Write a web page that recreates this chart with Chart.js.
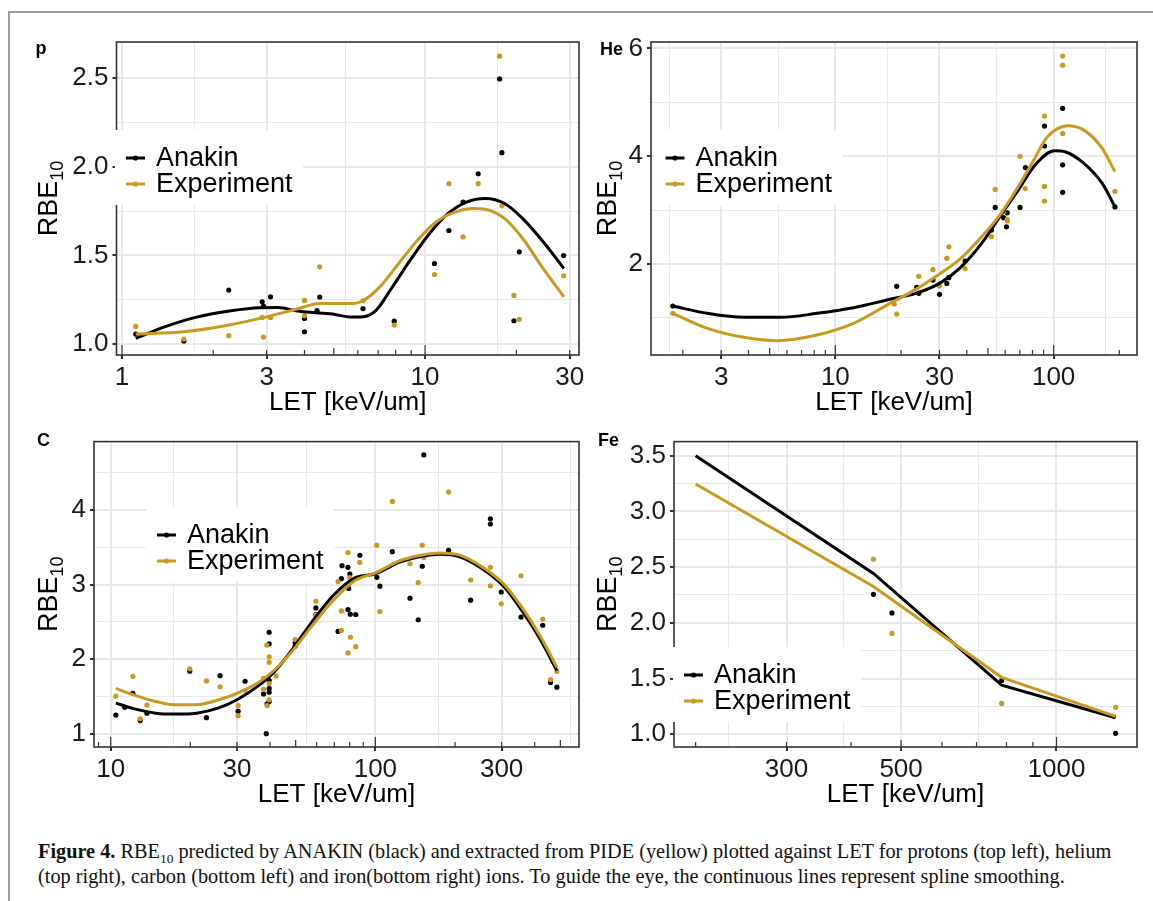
<!DOCTYPE html>
<html>
<head>
<meta charset="utf-8">
<script src="https://cdn.jsdelivr.net/npm/chart.js@4.4.0/dist/chart.umd.min.js"></script>
<style>
  body { margin: 0; background: #fff; width: 1153px; height: 901px; overflow: hidden; position: relative; }
  #frame { position: absolute; left: 8px; top: 11px; width: 1170px; height: 910px; border: 2px solid #9b9b9b; }
  canvas { position: absolute; }
  #caption { position: absolute; left: 38px; top: 839px; font-family: "Liberation Serif", "Times New Roman", serif;
             font-size: 20.3px; line-height: 25px; color: #111; white-space: nowrap; }
  #caption sub { font-size: 13.5px; line-height: 0; }
</style>
</head>
<body>
<div id="frame"></div>
<canvas id="cp"  width="578" height="400" style="left:12px;top:20px"></canvas>
<canvas id="che" width="555" height="400" style="left:592px;top:20px"></canvas>
<canvas id="cc"  width="578" height="398" style="left:12px;top:422px"></canvas>
<canvas id="cfe" width="555" height="398" style="left:592px;top:422px"></canvas>
<div id="caption"><b>Figure 4.</b> RBE<sub>10</sub> predicted by ANAKIN (black) and extracted from PIDE (yellow) plotted against LET for protons (top left), helium<br>(top right), carbon (bottom left) and iron(bottom right) ions. To guide the eye, the continuous lines represent spline smoothing.</div>

<script>
const BLACK = "#000000";
const GOLD  = "#C99A1F";

// ---- protons ----
const pLetA = [1.11, 1.60, 2.25, 2.90, 2.93, 3.09, 4.0, 4.0, 4.40, 4.49, 6.24, 7.91, 10.74, 11.98, 13.35, 14.97, 17.62, 17.92, 19.64, 20.45, 28.66];
const pRbeA = [1.056, 1.017, 1.304, 1.238, 1.214, 1.266, 1.069, 1.144, 1.188, 1.265, 1.20, 1.129, 1.454, 1.64, 1.80, 1.96, 2.495, 2.079, 1.131, 1.52, 1.499];
const pLetE = [1.11, 1.60, 2.25, 2.90, 2.93, 3.09, 4.0, 4.0, 4.49, 6.24, 7.91, 10.74, 11.98, 13.35, 14.97, 17.62, 17.92, 19.64, 20.45, 28.66];
const pRbeE = [1.099, 1.028, 1.047, 1.15, 1.039, 1.15, 1.246, 1.159, 1.435, 1.244, 1.107, 1.392, 1.904, 1.604, 1.904, 2.623, 1.779, 1.274, 1.139, 1.385];
const pFitLetA = [1.11, 1.39, 1.75, 2.26, 2.84, 3.28, 3.78, 4.37, 5.04, 5.65, 6.24, 6.89, 7.74, 8.93, 10.3, 11.9, 13.7, 15.8, 18.3, 21.0, 24.3, 28.7];
const pFitA    = [1.032, 1.098, 1.15, 1.186, 1.205, 1.206, 1.186, 1.176, 1.167, 1.152, 1.154, 1.19, 1.313, 1.473, 1.619, 1.735, 1.80, 1.82, 1.792, 1.707, 1.585, 1.426];
const pFitLetE = [1.11, 1.60, 2.26, 3.01, 3.78, 4.49, 5.04, 5.81, 6.24, 7.09, 8.18, 9.44, 10.9, 12.6, 14.5, 15.8, 18.3, 21.0, 24.3, 28.7];
const pFitE    = [1.056, 1.069, 1.107, 1.154, 1.197, 1.229, 1.229, 1.229, 1.244, 1.322, 1.454, 1.585, 1.689, 1.745, 1.764, 1.76, 1.707, 1.595, 1.435, 1.266];

// ---- helium ----
const heLetA = [1.80, 19.1, 23.6, 24.1, 28.0, 30.0, 32.4, 33.1, 39.3, 51.9, 54.0, 59.0, 61.3, 60.8, 70.2, 74.3, 90.8, 90.8, 110, 110, 110, 191];
const heRbeA = [1.221, 1.586, 1.567, 1.456, 1.703, 1.437, 1.641, 1.747, 2.056, 2.63, 3.05, 2.86, 2.95, 2.69, 3.05, 3.79, 4.56, 4.19, 4.89, 3.84, 3.33, 3.06];
const heLetE = [1.80, 18.6, 19.1, 24.1, 28.0, 30.0, 32.4, 33.1, 39.3, 51.9, 54.0, 59.0, 61.3, 61.5, 70.2, 74.0, 90.8, 90.8, 90.8, 110, 110, 110, 191];
const heRbeE = [1.085, 1.26, 1.073, 1.771, 1.895, 1.592, 2.105, 2.32, 1.913, 2.507, 3.385, 2.97, 2.83, 2.80, 4.0, 3.40, 4.745, 3.44, 3.17, 5.86, 5.69, 4.42, 3.35];
const heFitLetA = [1.80, 2.59, 3.81, 5.61, 8.24, 12.1, 17.8, 23.4, 30.0, 37.1, 46.8, 56.7, 68.8, 83.4, 101, 113.5, 137.7, 167, 191];
const heFitA    = [1.221, 1.085, 1.011, 1.011, 1.085, 1.19, 1.345, 1.456, 1.641, 1.92, 2.383, 2.878, 3.373, 3.867, 4.10, 4.08, 3.867, 3.496, 3.063];
const heFitLetE = [1.80, 2.59, 3.81, 5.39, 8.24, 12.1, 17.8, 23.4, 30.0, 37.1, 46.8, 56.7, 68.8, 80.3, 93.7, 115.8, 137.7, 167, 191];
const heFitE    = [1.085, 0.807, 0.64, 0.578, 0.683, 0.90, 1.27, 1.53, 1.815, 2.087, 2.507, 2.909, 3.434, 3.898, 4.36, 4.566, 4.485, 4.145, 3.713];

// ---- carbon ----
const cLetA = [10.46, 11.30, 12.13, 12.93, 13.71, 19.9, 23.0, 25.9, 30.3, 32.2, 37.8, 38.7, 39.0, 39.7, 39.7, 39.7, 39.7, 39.7, 39.7,
               49.8, 49.8, 59.6, 59.6, 72.3, 74.4, 74.8, 78.8, 78.8, 79.3, 80.1, 80.4, 84.3, 87.4, 101.3, 104, 115.9, 135.2, 145.2,
               150.4, 152.4, 189, 229, 272, 272, 299, 355, 429, 459, 485];
const cRbeA = [1.249, 1.354, 1.541, 1.175, 1.275, 1.838, 1.214, 1.777, 1.301, 1.703, 1.533, 1.0, 1.40, 2.36, 2.205, 1.716, 1.607, 1.555, 1.43,
               2.218, 2.175, 2.686, 2.598, 2.371, 3.079, 3.253, 3.231, 2.664, 2.948, 3.14, 2.603, 2.598, 3.393, 3.096, 2.978, 3.441, 2.817, 2.528,
               3.245, 4.738, 3.459, 2.79, 3.882, 3.812, 2.90, 2.563, 2.454, 1.686, 1.624];
const cLetE = [10.46, 12.13, 12.93, 13.71, 19.9, 23.0, 25.9, 30.3, 30.3, 32.2, 37.8, 37.8, 38.9, 39.7, 39.7, 39.7, 39.7, 39.0, 42.2,
               49.8, 59.6, 59.6, 72.3, 74.4, 74.4, 78.8, 78.8, 80.1, 80.5, 84.3, 87.4, 101.3, 104, 115.9, 135.2, 145.2, 150.4, 152.4,
               189, 229, 272, 272, 299, 355, 429, 459, 485];
const cRbeE = [1.502, 1.769, 1.2, 1.384, 1.869, 1.707, 1.629, 1.24, 1.376, 1.581, 1.742, 1.594, 2.188, 2.031, 1.956, 1.672, 1.454, 1.376, 1.773,
               2.262, 2.777, 2.59, 3.04, 2.646, 2.384, 3.428, 2.083, 3.092, 2.293, 2.166, 3.297, 3.528, 2.638, 4.114, 3.279, 3.026, 3.528, 3.362,
               4.24, 3.061, 3.231, 2.983, 2.742, 3.118, 2.537, 1.725, 1.834];
const cFitLet = [10.46, 12.2, 14.8, 17.4, 21.1, 25.6, 30.0, 36.4, 41.4, 48.6, 57.1, 69.3, 84.1, 100, 123.6, 150, 176, 207, 251, 304, 357, 420, 485];
const cFitA   = [1.41, 1.336, 1.275, 1.262, 1.275, 1.345, 1.454, 1.651, 1.825, 2.131, 2.48, 2.852, 3.092, 3.144, 3.301, 3.38, 3.406, 3.376, 3.223, 2.983, 2.655, 2.262, 1.847];
const cFitE   = [1.607, 1.52, 1.432, 1.389, 1.389, 1.454, 1.541, 1.694, 1.847, 2.109, 2.428, 2.786, 3.057, 3.157, 3.319, 3.397, 3.424, 3.397, 3.245, 3.013, 2.699, 2.306, 1.891];

// ---- iron ----
const feLet  = [442, 480, 783, 1302];
const feRbeA = [2.256, 2.089, 1.482, 1.009];
const feRbeE = [2.571, 1.905, 1.277, 1.242];
const feFitLet = [200, 442, 783, 1302];
const feFitA   = [3.5, 2.443, 1.441, 1.149];
const feFitE   = [3.246, 2.326, 1.511, 1.161];

const LEGEND = [["Anakin", BLACK], ["Experiment", GOLD]];
const FONT = '"Liberation Sans", Arial, sans-serif';

const xy = (xs, ys) => xs.map((x, i) => ({ x, y: ys[i] }));

const decor = {
    id: "decor",
    afterDraw(chart) {
        const o = chart.options.plugins.decor;
        const { ctx, chartArea: a } = chart;
        const sx = chart.scales.x;
        const ox = o.box[0], oy = o.box[1];
        ctx.save();

        // log ticks inside the bottom of the panel
        ctx.strokeStyle = "#333333";
        ctx.lineWidth = 1.2;
        const p0 = Math.floor(Math.log10(sx.min)), p1 = Math.ceil(Math.log10(sx.max));
        for (let p = p0; p <= p1; p++) {
            for (let m = 1; m <= 9; m++) {
                const v = m * Math.pow(10, p);
                if (v < sx.min || v > sx.max) continue;
                const len = m === 1 ? 10 : (m === 5 ? 7 : 5);
                const px = sx.getPixelForValue(v);
                ctx.beginPath();
                ctx.moveTo(px, a.bottom);
                ctx.lineTo(px, a.bottom - len);
                ctx.stroke();
            }
        }

        // panel border
        ctx.lineWidth = 1.6;
        ctx.strokeRect(a.left, a.top, a.right - a.left, a.bottom - a.top);

        // legend
        const L = o.legend;
        const lx = L[0] - ox, ly = L[1] - oy;
        ctx.fillStyle = "#ffffff";
        ctx.fillRect(lx, ly, 188, 75);
        ctx.font = "27px " + FONT;
        ctx.textBaseline = "middle";
        LEGEND.forEach(([label, color], i) => {
            const ry = ly + 28 + i * 26;
            ctx.strokeStyle = color;
            ctx.lineWidth = 3;
            ctx.beginPath();
            ctx.moveTo(lx + 11, ry);
            ctx.lineTo(lx + 30, ry);
            ctx.stroke();
            ctx.fillStyle = color;
            ctx.beginPath();
            ctx.arc(lx + 20.5, ry, 2.6, 0, Math.PI * 2);
            ctx.fill();
            ctx.fillStyle = "#000";
            ctx.fillText(label, lx + 41, ry + 1);
        });

        // axis titles
        ctx.fillStyle = "#000";
        ctx.textBaseline = "alphabetic";
        ctx.textAlign = "center";
        ctx.font = "26px " + FONT;
        ctx.fillText("LET [keV/um]", (a.left + a.right) / 2, a.bottom + 55);

        ctx.save();
        ctx.translate(o.yTitleX - ox, (a.top + a.bottom) / 2);
        ctx.rotate(-Math.PI / 2);
        ctx.textAlign = "left";
        ctx.font = "27px " + FONT;
        const w1 = ctx.measureText("RBE").width;
        ctx.font = "18px " + FONT;
        const w2 = ctx.measureText("10").width;
        ctx.font = "27px " + FONT;
        ctx.fillText("RBE", -(w1 + w2) / 2, 0);
        ctx.font = "18px " + FONT;
        ctx.fillText("10", -(w1 + w2) / 2 + w1, 6);
        ctx.restore();

        // panel tag
        ctx.textAlign = "left";
        ctx.font = "bold 18px " + FONT;
        ctx.fillText(o.tag, o.tagXY[0] - ox, o.tagXY[1] - oy);
        ctx.restore();
    }
};

function makePanel(cfg) {
    const [bx, by, bw, bh] = cfg.box;
    const [pl, pt, pr, pb] = cfg.plot;
    const isMajor = (list, v) => list.some(m => Math.abs(m - v) < 1e-9);

    const gridFor = majors => ({
        color: "#E8E8E8",
        lineWidth: c => isMajor(majors, c.tick.value) ? 2 : 1,
        tickColor: c => isMajor(majors, c.tick.value) ? "#333333" : "rgba(0,0,0,0)",
        tickLength: 4,
        drawTicks: true
    });

    new Chart(document.getElementById(cfg.id), {
        type: "scatter",
        data: {
            datasets: [
                { data: xy(cfg.fitLetE, cfg.fitE), showLine: true, borderColor: GOLD, borderWidth: 3,
                  pointRadius: 0, cubicInterpolationMode: cfg.straight ? "default" : "monotone", tension: 0, order: 0 },
                { data: xy(cfg.fitLetA, cfg.fitA), showLine: true, borderColor: BLACK, borderWidth: 3,
                  pointRadius: 0, cubicInterpolationMode: cfg.straight ? "default" : "monotone", tension: 0, order: 1 },
                { data: xy(cfg.letE, cfg.rbeE), backgroundColor: GOLD, borderWidth: 0, pointRadius: 2.6, order: 2 },
                { data: xy(cfg.letA, cfg.rbeA), backgroundColor: BLACK, borderWidth: 0, pointRadius: 2.6, order: 3 }
            ]
        },
        options: {
            responsive: false,
            devicePixelRatio: 1,
            animation: false,
            layout: { padding: { top: pt - by, right: bx + bw - pr, left: 0, bottom: 0 } },
            plugins: {
                legend: { display: false },
                tooltip: { enabled: false },
                decor: { box: cfg.box, legend: cfg.legend, tag: cfg.tag, tagXY: cfg.tagXY, yTitleX: cfg.yTitleX }
            },
            scales: {
                x: {
                    type: "logarithmic",
                    bounds: "data",
                    min: cfg.xMin, max: cfg.xMax,
                    afterBuildTicks: s => { s.ticks = cfg.xMajor.concat(cfg.xMinor).sort((a, b) => a - b).map(v => ({ value: v })); },
                    afterFit: s => { s.height = by + bh - pb; },
                    ticks: {
                        autoSkip: false, maxRotation: 0, padding: 3,
                        color: "#1a1a1a", font: { family: FONT, size: 26 },
                        callback: v => isMajor(cfg.xMajor, v) ? String(v) : ""
                    },
                    grid: gridFor(cfg.xMajor),
                    border: { display: false }
                },
                y: {
                    type: "linear",
                    bounds: "data",
                    min: cfg.yMin, max: cfg.yMax,
                    afterBuildTicks: s => { s.ticks = cfg.yMajor.concat(cfg.yMinor).sort((a, b) => a - b).map(v => ({ value: v })); },
                    afterFit: s => { s.width = pl - bx; },
                    ticks: {
                        autoSkip: false, padding: 4,
                        color: "#1a1a1a", font: { family: FONT, size: 26 },
                        callback: v => isMajor(cfg.yMajor, v) ? v.toFixed(cfg.yDigits) : ""
                    },
                    grid: gridFor(cfg.yMajor),
                    border: { display: false }
                }
            }
        },
        plugins: [decor]
    });
}

makePanel({
    id: "cp", box: [12, 20, 578, 400], plot: [116.5, 42, 579, 355],
    xMin: 0.959, xMax: 32.2, xMajor: [1, 3, 10, 30], xMinor: [1.732, 5.477, 17.32],
    yMin: 0.938, yMax: 2.703, yMajor: [1, 1.5, 2, 2.5], yMinor: [1.25, 1.75, 2.25], yDigits: 1,
    letA: pLetA, rbeA: pRbeA, letE: pLetE, rbeE: pRbeE,
    fitLetA: pFitLetA, fitA: pFitA, fitLetE: pFitLetE, fitE: pFitE,
    legend: [115, 130], tag: "p", tagXY: [35.5, 54], yTitleX: 57
});

makePanel({
    id: "che", box: [592, 20, 555, 400], plot: [651, 42, 1137, 355],
    xMin: 1.43, xMax: 241, xMajor: [3, 10, 30, 100], xMinor: [1.732, 5.477, 17.32, 54.77, 173.2],
    yMin: 0.312, yMax: 6.12, yMajor: [2, 4, 6], yMinor: [1, 3, 5], yDigits: 0,
    letA: heLetA, rbeA: heRbeA, letE: heLetE, rbeE: heRbeE,
    fitLetA: heFitLetA, fitA: heFitA, fitLetE: heFitLetE, fitE: heFitE,
    legend: [654.5, 130], tag: "He", tagXY: [600, 55], yTitleX: 616
});

makePanel({
    id: "cc", box: [12, 422, 578, 398], plot: [94, 434, 579, 747],
    xMin: 8.65, xMax: 588, xMajor: [10, 30, 100, 300], xMinor: [17.32, 54.77, 173.2, 547.7],
    yMin: 0.821, yMax: 4.917, yMajor: [1, 2, 3, 4], yMinor: [1.5, 2.5, 3.5, 4.5], yDigits: 0,
    letA: cLetA, rbeA: cRbeA, letE: cLetE, rbeE: cRbeE,
    fitLetA: cFitLet, fitA: cFitA, fitLetE: cFitLet, fitE: cFitE,
    legend: [146, 507], tag: "C", tagXY: [37, 446], yTitleX: 57
});

makePanel({
    id: "cfe", box: [592, 422, 555, 398], plot: [674, 434, 1137, 747],
    xMin: 181.6, xMax: 1432, xMajor: [300, 500, 1000], xMinor: [232, 387.3, 707.1],
    yMin: 0.886, yMax: 3.626, yMajor: [1, 1.5, 2, 2.5, 3, 3.5], yMinor: [1.25, 1.75, 2.25, 2.75, 3.25], yDigits: 1,
    letA: feLet, rbeA: feRbeA, letE: feLet, rbeE: feRbeE,
    fitLetA: feFitLet, fitA: feFitA, fitLetE: feFitLet, fitE: feFitE, straight: true,
    legend: [673, 647], tag: "Fe", tagXY: [598, 446], yTitleX: 616
});
</script>
</body>
</html>
